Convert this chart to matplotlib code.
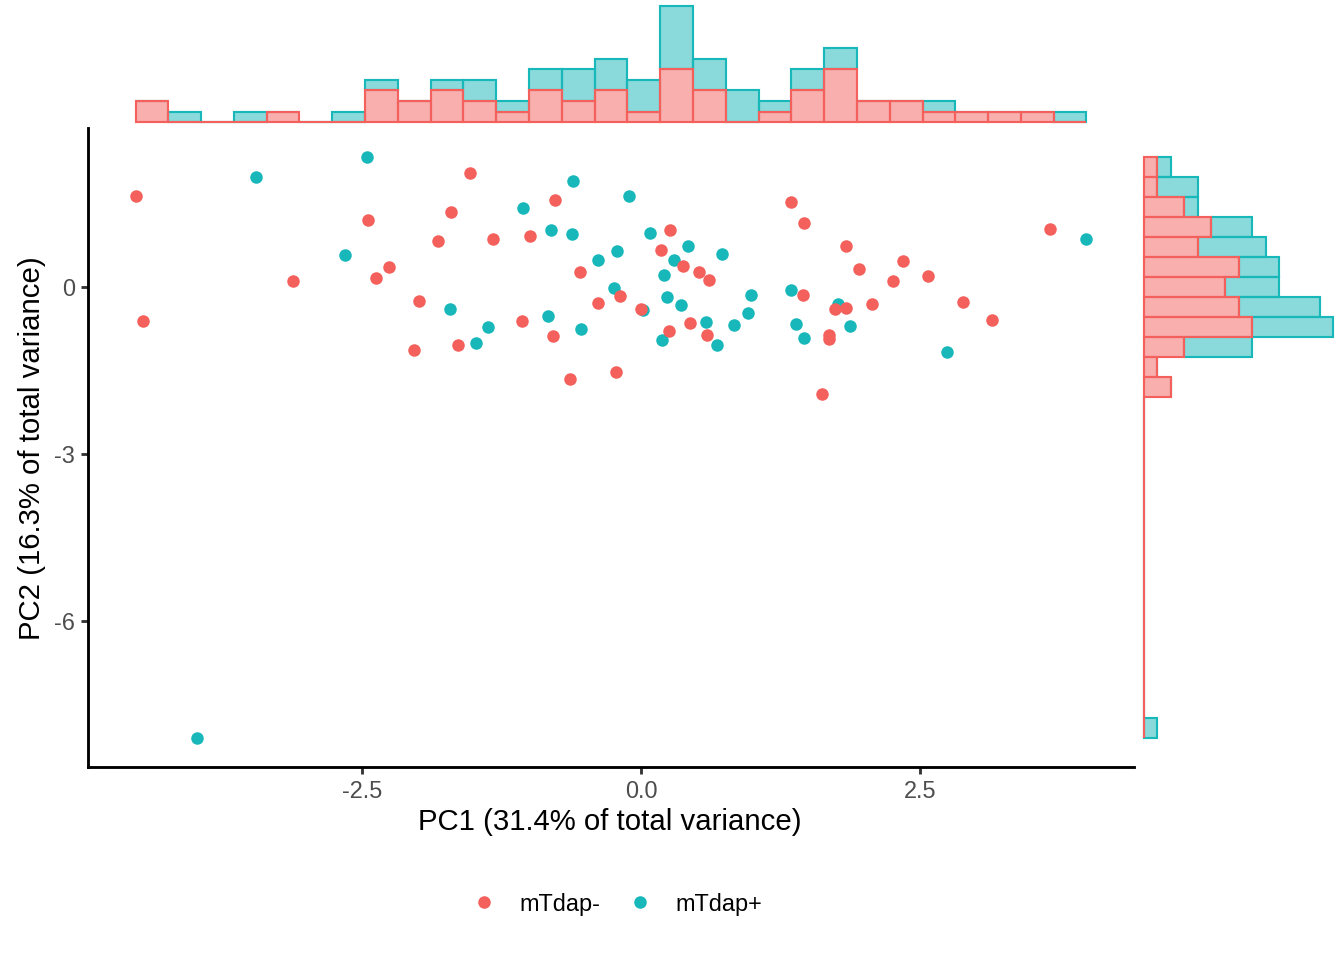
import numpy as np
import matplotlib
matplotlib.use("Agg")
import matplotlib.pyplot as plt
from matplotlib.lines import Line2D

plt.rcParams['font.family'] = ['Liberation Sans', 'DejaVu Sans']

# ---- data ----
groups = ["mTdap-", "mTdap+"]
colors = ["#F4605C", "#17B7BA"]

neg_pc1 = [-1.532, -4.534, -1.705, -2.453, -1.822, -2.258, -2.381, -3.118, -1.996, -4.471,
           -1.640, -2.037, -0.768, -1.329, -0.995, 0.263, 0.179, -0.549, 0.374, 0.517,
           0.607, -0.188, -0.383, 0.003, 0.442, 0.594, 0.254, -1.064, -0.786, -0.636,
           -0.227, 1.340, 1.463, 1.837, 1.953, 2.345, 2.261, 2.569, 3.665, 1.454,
           1.738, 1.837, 2.067, 2.885, 3.151, 1.687, 1.687, 1.625]
neg_pc2 = [2.060, 1.647, 1.360, 1.216, 0.826, 0.359, 0.162, 0.120, -0.246, -0.598,
           -1.042, -1.132, 1.575, 0.862, 0.916, 1.024, 0.677, 0.269, 0.383, 0.275,
           0.138, -0.156, -0.275, -0.395, -0.641, -0.850, -0.790, -0.611, -0.875, -1.640,
           -1.527, 1.539, 1.150, 0.736, 0.336, 0.467, 0.120, 0.198, 1.042, -0.144,
           -0.390, -0.365, -0.300, -0.257, -0.580, -0.850, -0.934, -1.917]

pos_pc1 = [-2.455, -3.453, -2.652, -1.714, -3.987, -0.612, -0.110, -1.057, -0.809, -0.616,
           0.083, 0.418, 0.728, -0.212, -0.383, 0.293, 0.206, -0.245, 0.021, 0.236,
           0.361, 0.986, 0.961, 0.833, 0.582, 0.684, 0.185, -1.371, -0.833, -0.540,
           -1.485, 3.994, 1.340, 1.768, 1.386, 1.873, 1.461, 2.742]
pos_pc2 = [2.341, 1.975, 0.587, -0.383, -8.101, 1.909, 1.640, 1.432, 1.024, 0.957,
           0.975, 0.742, 0.593, 0.659, 0.485, 0.498, 0.228, -0.005, -0.408, -0.167,
           -0.323, -0.131, -0.454, -0.670, -0.629, -1.029, -0.939, -0.713, -0.508, -0.749,
           -0.993, 0.868, -0.049, -0.293, -0.652, -0.701, -0.916, -1.162]

x_ticks = [-2.5, 0.0, 2.5]
x_ticklabels = ["-2.5", "0.0", "2.5"]
y_ticks = [-6, -3, 0]
y_ticklabels = ["-6", "-3", "0"]
xlabel = "PC1 (31.4% of total variance)"
ylabel = "PC2 (16.3% of total variance)"
n_bins = 29

# ---- derived ----
all_x = np.array(neg_pc1 + pos_pc1)
all_y = np.array(neg_pc2 + pos_pc2)
xmin, xmax = all_x.min(), all_x.max()
ymin, ymax = all_y.min(), all_y.max()
xr, yr = xmax - xmin, ymax - ymin
xlim = (xmin - 0.05 * xr, xmax + 0.05 * xr)
ylim = (ymin - 0.05 * yr, ymax + 0.05 * yr)
xedges = np.linspace(xmin, xmax, n_bins + 1)
yedges = np.linspace(ymin, ymax, n_bins + 1)

W, H = 1344, 960
fig = plt.figure(figsize=(7, 5), dpi=192)

def box(l, t, r, b):
    return [l / W, 1 - b / H, (r - l) / W, (b - t) / H]

ax = fig.add_axes(box(88, 128, 1134, 767))
axt = fig.add_axes(box(88, 0, 1134, 128))
axr = fig.add_axes(box(1134, 128, 1343, 767))

# scatter
ax.scatter(pos_pc1, pos_pc2, s=22, color=colors[1], linewidths=0, zorder=3)
ax.scatter(neg_pc1, neg_pc2, s=22, color=colors[0], linewidths=0, zorder=3)
ax.set_xlim(xlim)
ax.set_ylim(ylim)
for s in ["top", "right"]:
    ax.spines[s].set_visible(False)
for s in ["left", "bottom"]:
    ax.spines[s].set_linewidth(1.07)
    ax.spines[s].set_color("black")
ax.set_xticks(x_ticks)
ax.set_xticklabels(x_ticklabels)
ax.set_yticks(y_ticks)
ax.set_yticklabels(y_ticklabels)
ax.tick_params(axis="both", length=2.75, width=1.07, color="#333333",
               labelcolor="#4D4D4D", labelsize=8.8, pad=2.2)

# marginal histograms (stacked: mTdap- bottom, mTdap+ on top)
cn_x, _ = np.histogram(neg_pc1, bins=xedges)
cp_x, _ = np.histogram(pos_pc1, bins=xedges)
cn_y, _ = np.histogram(neg_pc2, bins=yedges)
cp_y, _ = np.histogram(pos_pc2, bins=yedges)
wx = np.diff(xedges)
wy = np.diff(yedges)

axt.bar(xedges[:-1], cp_x, width=wx, bottom=cn_x, align="edge",
        facecolor=colors[1], alpha=0.5, edgecolor="none")
axt.bar(xedges[:-1], cp_x, width=wx, bottom=cn_x, align="edge",
        facecolor="none", edgecolor=colors[1], linewidth=0.8)
axt.bar(xedges[:-1], cn_x, width=wx, align="edge",
        facecolor=colors[0], alpha=0.5, edgecolor="none")
axt.bar(xedges[:-1], cn_x, width=wx, align="edge",
        facecolor="none", edgecolor=colors[0], linewidth=0.8)
mt = (cn_x + cp_x).max()
axt.set_xlim(xlim)
axt.set_ylim(-0.05 * mt, 1.05 * mt)
axt.axis("off")

axr.barh(yedges[:-1], cp_y, height=wy, left=cn_y, align="edge",
         facecolor=colors[1], alpha=0.5, edgecolor="none")
axr.barh(yedges[:-1], cp_y, height=wy, left=cn_y, align="edge",
         facecolor="none", edgecolor=colors[1], linewidth=0.8)
axr.barh(yedges[:-1], cn_y, height=wy, align="edge",
         facecolor=colors[0], alpha=0.5, edgecolor="none")
axr.barh(yedges[:-1], cn_y, height=wy, align="edge",
         facecolor="none", edgecolor=colors[0], linewidth=0.8)
mr = (cn_y + cp_y).max()
axr.set_ylim(ylim)
axr.set_xlim(-0.05 * mr, 1.05 * mr)
axr.axis("off")

# labels
fig.text(610 / W, 1 - 822 / H, xlabel, ha="center", va="center", fontsize=11, color="black")
fig.text(32 / W, 1 - 448 / H, ylabel, ha="center", va="center", rotation=90,
         fontsize=11, color="black")

handles = [Line2D([], [], marker="o", linestyle="none", markersize=4.7,
                  markerfacecolor=c, markeredgewidth=0, color=c) for c in colors]
fig.legend(handles, groups, loc="center", bbox_to_anchor=(616 / W, 1 - 904 / H),
           ncol=2, frameon=False, fontsize=8.8, handletextpad=0.9,
           columnspacing=1.1, handlelength=1.2)

fig.savefig("out.png", dpi=192)
